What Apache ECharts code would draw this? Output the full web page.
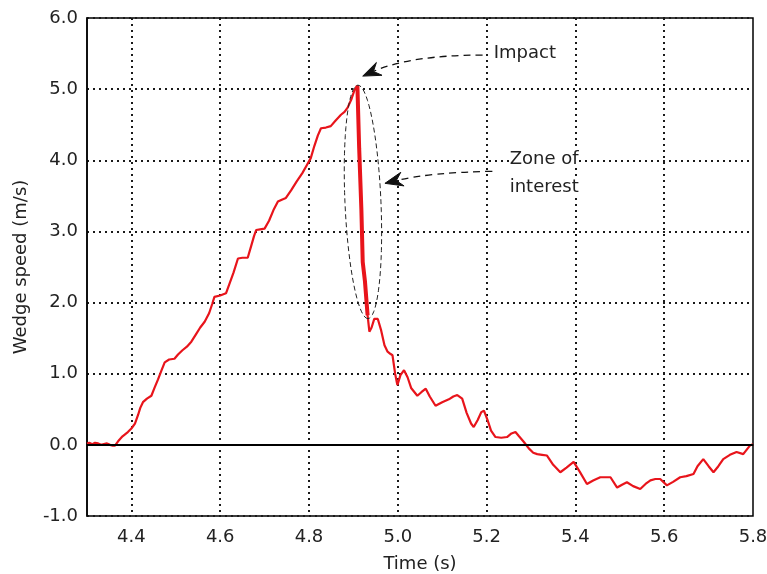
<!DOCTYPE html>
<html><head><meta charset="utf-8">
<script src="https://cdn.jsdelivr.net/npm/echarts@6/dist/echarts.min.js"></script>
<style>html,body{margin:0;padding:0;background:#fff}#c{width:767px;height:574px}</style>
</head><body><div id="c"></div>
<script>
const time = [4.300,4.305,4.312,4.318,4.325,4.332,4.338,4.345,4.352,4.358,4.363,4.370,4.380,4.392,4.400,4.408,4.415,4.420,4.426,4.435,4.445,4.452,4.460,4.468,4.475,4.485,4.497,4.505,4.515,4.525,4.535,4.545,4.555,4.565,4.575,4.582,4.587,4.600,4.613,4.620,4.630,4.640,4.650,4.662,4.670,4.676,4.681,4.690,4.700,4.710,4.720,4.730,4.740,4.748,4.760,4.772,4.785,4.795,4.804,4.812,4.820,4.827,4.838,4.849,4.860,4.872,4.880,4.887,4.895,4.902,4.909,4.913,4.918,4.921,4.926,4.932,4.936,4.941,4.947,4.955,4.962,4.970,4.977,4.983,4.988,4.994,4.999,5.006,5.014,5.022,5.030,5.044,5.053,5.063,5.072,5.085,5.100,5.115,5.125,5.134,5.145,5.155,5.165,5.171,5.180,5.188,5.194,5.202,5.210,5.220,5.233,5.246,5.256,5.265,5.273,5.284,5.295,5.305,5.314,5.325,5.336,5.350,5.366,5.380,5.396,5.410,5.426,5.440,5.456,5.468,5.479,5.494,5.505,5.516,5.530,5.546,5.558,5.569,5.580,5.591,5.606,5.620,5.636,5.650,5.666,5.675,5.688,5.700,5.711,5.722,5.733,5.748,5.763,5.778,5.793,5.800];
const speed = [0.02,0.03,0.01,0.03,0.02,0.00,0.01,0.02,0.00,-0.01,-0.01,0.05,0.12,0.18,0.23,0.30,0.42,0.52,0.60,0.65,0.69,0.80,0.92,1.05,1.16,1.20,1.21,1.27,1.33,1.38,1.45,1.55,1.65,1.73,1.85,1.98,2.08,2.10,2.13,2.25,2.42,2.62,2.63,2.63,2.80,2.93,3.02,3.03,3.04,3.15,3.30,3.42,3.45,3.47,3.58,3.70,3.82,3.93,4.03,4.20,4.35,4.45,4.46,4.48,4.56,4.64,4.68,4.74,4.85,4.98,5.05,4.17,3.30,2.57,2.30,1.82,1.59,1.65,1.77,1.77,1.62,1.40,1.31,1.28,1.26,1.00,0.84,0.98,1.05,0.95,0.80,0.69,0.74,0.79,0.68,0.55,0.60,0.64,0.68,0.70,0.65,0.45,0.30,0.25,0.35,0.46,0.48,0.35,0.20,0.11,0.10,0.11,0.16,0.18,0.12,0.04,-0.05,-0.11,-0.13,-0.14,-0.15,-0.28,-0.385,-0.32,-0.24,-0.38,-0.55,-0.50,-0.455,-0.455,-0.455,-0.60,-0.56,-0.525,-0.58,-0.62,-0.55,-0.50,-0.48,-0.48,-0.57,-0.52,-0.455,-0.44,-0.41,-0.30,-0.20,-0.30,-0.385,-0.30,-0.20,-0.14,-0.10,-0.13,-0.01,0.01];
const zoneRange = [4.909, 4.932];
const xLabelValues = [4.4,4.6,4.8,5.0,5.2,5.4,5.6,5.8];
const xGridValues = [4.4,4.6,4.8,5.0,5.2,5.4,5.6];
const xTitle = 'Time (s)';
const yTitle = 'Wedge speed (m/s)';
const notes = {impact: 'Impact', zone1: 'Zone of', zone2: 'interest'};

const FONT = 'DejaVu Sans, Liberation Sans, Arial, sans-serif';
const FS = 18;
const RED = '#e8141b';
const mainData = time.map((t,i)=>[t,speed[i]]);
const zoneData = mainData.filter(d=>d[0]>=zoneRange[0]-1e-9 && d[0]<=zoneRange[1]+1e-9);
const dotted = {color:'#1a1a1a', width:2, type:[2,4]};

const chart = echarts.init(document.getElementById('c'), null, {renderer:'canvas'});
chart.setOption({
  animation:false,
  grid:{left:87, right:14, top:18, bottom:58, containLabel:false, outerBoundsMode:'none', show:true, borderColor:'#000', borderWidth:1.5, backgroundColor:'transparent'},
  xAxis:{type:'value', min:4.3, max:5.8,
    name:xTitle, nameLocation:'middle', nameGap:39,
    nameTextStyle:{fontFamily:FONT, fontSize:FS, color:'#222'},
    axisLine:{show:true, lineStyle:{color:'#000', width:1.5}},
    axisTick:{show:false, customValues:xGridValues},
    axisLabel:{customValues:xLabelValues, formatter:v=>v.toFixed(1), fontFamily:FONT, fontSize:FS, color:'#222', margin:12, hideOverlap:false},
    splitLine:{show:true, lineStyle:dotted}
  },
  yAxis:{type:'value', min:-1, max:6, interval:1,
    name:yTitle, nameLocation:'middle', nameGap:57, nameRotate:90,
    nameTextStyle:{fontFamily:FONT, fontSize:FS, color:'#222'},
    axisLine:{show:true, lineStyle:{color:'#000', width:1.5}},
    axisTick:{show:false},
    axisLabel:{formatter:v=>v.toFixed(1), fontFamily:FONT, fontSize:FS, color:'#222', margin:9},
    splitLine:{show:true, lineStyle:dotted}
  },
  series:[
    {type:'line', data:mainData, showSymbol:false, symbol:'none', smooth:false,
     lineStyle:{color:RED, width:2.2}, z:3,
     markLine:{silent:true, symbol:'none', label:{show:false},
       lineStyle:{color:'#000', width:2, type:'solid'},
       data:[{yAxis:0}]}},
    {type:'line', data:zoneData, showSymbol:false, symbol:'none',
     lineStyle:{color:RED, width:4}, z:4}
  ]
});

function px(t,v){return chart.convertToPixel({gridIndex:0},[t,v]);}
function arrow(S,C,T){
  const s=px(S[0],S[1]), c=px(C[0],C[1]), tip=px(T[0],T[1]);
  const dx=tip[0]-c[0], dy=tip[1]-c[1], L=Math.hypot(dx,dy);
  const ux=dx/L, uy=dy/L, nx=-uy, ny=ux;
  const hl=18, hw=7;
  const base=[tip[0]-ux*hl, tip[1]-uy*hl];
  const notch=[tip[0]-ux*hl*0.65, tip[1]-uy*hl*0.65];
  return [
    {type:'bezierCurve', shape:{x1:s[0],y1:s[1],cpx1:c[0],cpy1:c[1],x2:notch[0],y2:notch[1]},
     style:{stroke:'#111', lineWidth:1.3, lineDash:[7,5], fill:null}, z:10},
    {type:'polygon', shape:{points:[tip,[base[0]+nx*hw,base[1]+ny*hw],notch,[base[0]-nx*hw,base[1]-ny*hw]]},
     style:{fill:'#111', stroke:'#111', lineWidth:1}, z:10}
  ];
}
function ellipse(A,B,hw){
  const a=px(A[0],A[1]), b=px(B[0],B[1]);
  const cx=(a[0]+b[0])/2, cy=(a[1]+b[1])/2;
  const dx=b[0]-a[0], dy=b[1]-a[1], L=Math.hypot(dx,dy);
  const ux=dx/L, uy=dy/L, nx=-uy, ny=ux, R=L/2;
  const pts=[];
  for(let k=0;k<=72;k++){const th=k/72*Math.PI*2;
    const p=Math.cos(th)*R, q=Math.sin(th)*hw;
    pts.push([cx+ux*p+nx*q, cy+uy*p+ny*q]);}
  return {type:'polyline', shape:{points:pts}, style:{stroke:'#222', lineWidth:1, lineDash:[5,3], fill:null}, z:9};
}
function label(t,v,text){
  const p=px(t,v);
  return {type:'text', x:p[0], y:p[1], style:{text:text, fontFamily:FONT, fontSize:FS, fill:'#222', verticalAlign:'middle', align:'left', backgroundColor:'#fff'}, z:10};
}
const g=[]
  .concat(arrow([5.191,5.479],[5.029,5.479],[4.921,5.183]))
  .concat(arrow([5.213,3.845],[5.074,3.831],[4.971,3.676]))
  .concat([ellipse([4.910,5.056],[4.933,1.775],18),
    label(5.216,5.50,notes.impact), label(5.252,4.02,notes.zone1), label(5.252,3.62,notes.zone2)]);
chart.setOption({graphic:g});
</script></body></html>
